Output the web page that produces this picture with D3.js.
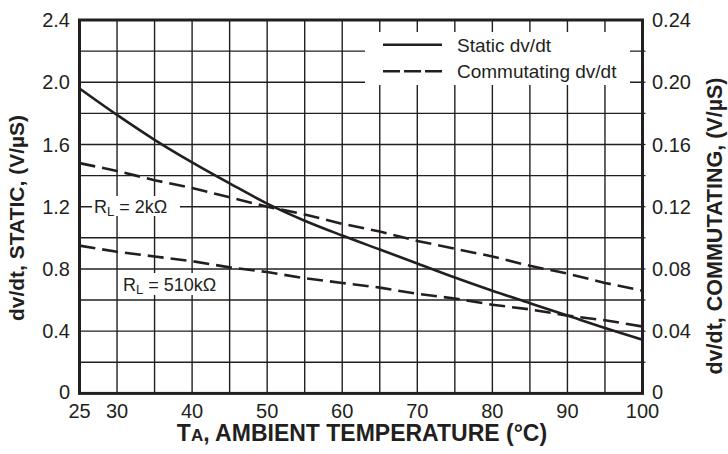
<!DOCTYPE html>
<html>
<head>
<meta charset="utf-8">
<script src="https://cdn.jsdelivr.net/npm/d3@7"></script>
<style>
  body { margin: 0; background: #fff; }
  text { font-family: "Liberation Sans", Arial, Helvetica, sans-serif; fill: #231f20; }
</style>
</head>
<body>
<div id="chart"></div>
<script>
// ambient temperature (C)
var temps = [25, 30, 35, 40, 45, 50, 55, 60, 65, 70, 75, 80, 85, 90, 95, 100];
// static dv/dt, left axis (V/uS)
var staticDvdt = [1.96, 1.79, 1.63, 1.485, 1.35, 1.22, 1.11, 1.015, 0.925, 0.835, 0.745, 0.66, 0.58, 0.50, 0.42, 0.345];
// commutating dv/dt, right axis (V/uS)
var commRL2k = [0.148, 0.143, 0.137, 0.132, 0.126, 0.120, 0.115, 0.109, 0.104, 0.098, 0.093, 0.088, 0.082, 0.077, 0.071, 0.066];
var commRL510k = [0.095, 0.091, 0.088, 0.085, 0.081, 0.078, 0.074, 0.071, 0.068, 0.064, 0.061, 0.057, 0.054, 0.050, 0.047, 0.043];

var xTicks = [25, 30, 40, 50, 60, 70, 80, 90, 100];
var xGrid = [30, 35, 40, 45, 50, 55, 60, 65, 70, 75, 80, 85, 90, 95];
var yTicks = [0, 0.4, 0.8, 1.2, 1.6, 2.0, 2.4];
var y2Ticks = [0, 0.04, 0.08, 0.12, 0.16, 0.20, 0.24];
var yGrid = [0.2, 0.4, 0.6, 0.8, 1.0, 1.2, 1.4, 1.6, 1.8, 2.0, 2.2];

var W = 728, H = 454;
var margin = {top: 20, right: 85.5, bottom: 60.6, left: 79.5};

var svg = d3.select("#chart").append("svg")
  .attr("width", W).attr("height", H);

var x = d3.scaleLinear().domain([25, 100]).range([margin.left, W - margin.right]);
var y = d3.scaleLinear().domain([0, 2.4]).range([H - margin.bottom, margin.top]);
var y2 = d3.scaleLinear().domain([0, 0.24]).range([H - margin.bottom, margin.top]);

var ink = "#231f20";

// grid
svg.append("g").selectAll("line").data(xGrid).enter().append("line")
  .attr("x1", d => x(d)).attr("x2", d => x(d))
  .attr("y1", y(0)).attr("y2", y(2.4))
  .attr("stroke", ink).attr("stroke-width", 1.4);
svg.append("g").selectAll("line").data(yGrid).enter().append("line")
  .attr("x1", x(25)).attr("x2", x(100))
  .attr("y1", d => y(d)).attr("y2", d => y(d))
  .attr("stroke", ink).attr("stroke-width", 1.4);

// small outward ticks on right axis
svg.append("g").selectAll("line").data(yGrid).enter().append("line")
  .attr("x1", x(100)).attr("x2", x(100) + 3)
  .attr("y1", d => y(d)).attr("y2", d => y(d))
  .attr("stroke", ink).attr("stroke-width", 1.2);

// white boxes behind legend and labels
svg.append("rect").attr("x", 365).attr("y", 32).attr("width", 265).attr("height", 53).attr("fill", "#fff");
svg.append("rect").attr("x", 92).attr("y", 196).attr("width", 88).attr("height", 20).attr("fill", "#fff");
svg.append("rect").attr("x", 120).attr("y", 273).attr("width", 107).attr("height", 22).attr("fill", "#fff");

// curves
var lineStatic = d3.line().x((d, i) => x(temps[i])).y(d => y(d)).curve(d3.curveMonotoneX);
var lineComm = d3.line().x((d, i) => x(temps[i])).y(d => y2(d));

svg.append("path").datum(staticDvdt).attr("d", lineStatic)
  .attr("fill", "none").attr("stroke", ink).attr("stroke-width", 2.6);
svg.append("path").datum(commRL2k).attr("d", lineComm)
  .attr("fill", "none").attr("stroke", ink).attr("stroke-width", 2.6)
  .attr("stroke-dasharray", "16,7");
svg.append("path").datum(commRL510k).attr("d", lineComm)
  .attr("fill", "none").attr("stroke", ink).attr("stroke-width", 2.6)
  .attr("stroke-dasharray", "16,7");

// frame
svg.append("rect")
  .attr("x", x(25)).attr("y", y(2.4))
  .attr("width", x(100) - x(25)).attr("height", y(0) - y(2.4))
  .attr("fill", "none").attr("stroke", ink).attr("stroke-width", 3);

// tick labels
svg.append("g").selectAll("text").data(xTicks).enter().append("text")
  .attr("x", d => x(d)).attr("y", 418)
  .attr("text-anchor", "middle").attr("font-size", 20)
  .text(d => d);
svg.append("g").selectAll("text").data(yTicks).enter().append("text")
  .attr("x", 70).attr("y", d => y(d) - (d === 0 ? 2 : 0)).attr("dy", "0.36em")
  .attr("text-anchor", "end").attr("font-size", 20)
  .text(d => d === 0 ? "0" : d.toFixed(1));
svg.append("g").selectAll("text").data(y2Ticks).enter().append("text")
  .attr("x", 652).attr("y", d => y2(d) - (d === 0 ? 2 : 0)).attr("dy", "0.36em")
  .attr("text-anchor", "start").attr("font-size", 20)
  .text(d => d === 0 ? "0" : d.toFixed(2));

// axis titles
var xt = svg.append("text").attr("x", 362).attr("y", 441)
  .attr("text-anchor", "middle").attr("font-size", 23).attr("font-weight", "bold");
xt.append("tspan").text("T");
xt.append("tspan").attr("font-size", 17).text("A");
xt.append("tspan").text(", AMBIENT TEMPERATURE (°C)");

svg.append("text")
  .attr("transform", "translate(24,218) rotate(-90)")
  .attr("text-anchor", "middle").attr("font-size", 21).attr("font-weight", "bold")
  .text("dv/dt, STATIC, (V/µS)");
svg.append("text")
  .attr("transform", "translate(722,226) rotate(-90)")
  .attr("text-anchor", "middle").attr("font-size", 21.5).attr("font-weight", "bold")
  .text("dv/dt, COMMUTATING, (V/µS)");

// legend
svg.append("line").attr("x1", 383).attr("x2", 442).attr("y1", 44.7).attr("y2", 44.7)
  .attr("stroke", ink).attr("stroke-width", 2.6);
svg.append("line").attr("x1", 383).attr("x2", 442).attr("y1", 71.3).attr("y2", 71.3)
  .attr("stroke", ink).attr("stroke-width", 2.6).attr("stroke-dasharray", "17,4");
svg.append("text").attr("x", 457).attr("y", 51.5).attr("font-size", 19).text("Static dv/dt");
svg.append("text").attr("x", 457).attr("y", 78).attr("font-size", 19).text("Commutating dv/dt");

// curve labels
var l1 = svg.append("text").attr("x", 94).attr("y", 213).attr("font-size", 18);
l1.append("tspan").text("R");
l1.append("tspan").attr("font-size", 13).attr("dy", 3).text("L");
l1.append("tspan").attr("dy", -3).text(" = 2kΩ");
var l2 = svg.append("text").attr("x", 123).attr("y", 291).attr("font-size", 18);
l2.append("tspan").text("R");
l2.append("tspan").attr("font-size", 13).attr("dy", 3).text("L");
l2.append("tspan").attr("dy", -3).text(" = 510kΩ");
</script>
</body>
</html>
